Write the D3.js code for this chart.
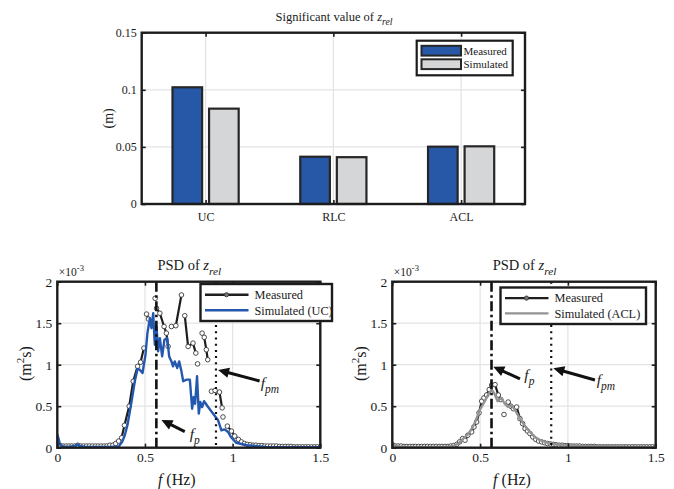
<!DOCTYPE html>
<html><head><meta charset="utf-8">
<script src="https://cdn.jsdelivr.net/npm/d3@7"></script>
<style>
body{margin:0;background:#fff}
svg{display:block}
text{font-family:"Liberation Serif","Times New Roman",serif;fill:#1a1a1a}
</style>
</head><body>
<svg id="chart" width="674" height="489"></svg>
<script>
// ---------------- DATA ----------------
const barCategories = ["UC", "RLC", "ACL"];
const barSeries = ["Measured", "Simulated"];
const barMeasured = [0.1022, 0.0414, 0.0502];
const barSimulated = [0.0835, 0.0410, 0.0505];
const barYTicks = [0, 0.05, 0.1, 0.15];

const psdXTicks = [0, 0.5, 1, 1.5];
const psdYTicks = [0, 0.5, 1, 1.5, 2];   // x 10^-3

// [frequency Hz, PSD x1e-3], null = break in line
const ucMeasured = [
  [0,0.08],[0.017,0.025],[0.033,0.02],[0.05,0.02],[0.067,0.02],[0.083,0.02],[0.1,0.02],[0.117,0.03],
  [0.133,0.02],[0.15,0.02],[0.167,0.02],[0.183,0.02],[0.2,0.02],[0.217,0.02],[0.233,0.02],[0.25,0.02],
  [0.267,0.02],[0.283,0.02],[0.3,0.03],[0.317,0.03],[0.333,0.05],[0.35,0.08],[0.367,0.12],[0.383,0.27],
  [0.41,0.5],[0.433,0.8],[0.458,0.98],[0.475,1.03],[0.494,1.2],
  null,[0.509,1.61],[0.52,1.55],
  null,[0.558,1.8],
  null,[0.566,1.68],[0.585,1.62],[0.609,1.46],[0.622,1.38],[0.632,1.22],
  null,[0.651,1.46],[0.676,1.47],[0.708,1.84],
  null,[0.727,1.59],[0.746,1.22],[0.774,1.26],[0.79,1.14],
  null,[0.8,1.01],
  null,[0.826,1.38],[0.838,1.33],[0.85,1.18],[0.858,1.06],
  null,[0.879,0.68],[0.9,0.69],[0.925,0.67],[0.94,0.48],
  null,[0.945,0.37],
  null,[0.97,0.26],[0.993,0.2],[1.012,0.14],[1.033,0.1],[1.05,0.07],[1.067,0.05],[1.083,0.04],[1.1,0.035],
  [1.117,0.03],[1.133,0.03],[1.15,0.025],[1.167,0.025],[1.183,0.02],[1.2,0.02],[1.217,0.02],[1.233,0.02],
  [1.25,0.02],[1.267,0.015],[1.283,0.015],[1.3,0.015],[1.317,0.015],[1.333,0.015],[1.35,0.01],[1.367,0.01],
  [1.383,0.01],[1.4,0.01],[1.417,0.01],[1.433,0.01],[1.45,0.01],[1.467,0.01],[1.483,0.01],[1.5,0.01]
];
const ucSimulated = [
  [0,0.16],[0.008,0.1],[0.017,0.03],[0.033,0.015],[0.06,0.01],[0.1,0.02],[0.115,0.04],[0.13,0.02],
  [0.16,0.01],[0.2,0.01],[0.25,0.01],[0.3,0.01],[0.35,0.015],[0.37,0.07],[0.385,0.15],[0.4,0.27],
  [0.423,0.55],[0.442,0.8],[0.458,0.95],[0.47,0.94],[0.486,0.9],[0.503,1.12],[0.514,1.38],[0.528,1.56],
  [0.537,1.44],[0.547,1.62],[0.556,1.24],[0.566,1.46],[0.575,1.16],[0.585,1.32],[0.598,1.1],[0.611,1.3],
  [0.627,1.32],[0.638,1.1],[0.651,1.04],[0.66,0.98],[0.67,1.04],[0.684,0.96],[0.695,1.04],[0.708,0.92],
  [0.718,0.8],[0.737,0.82],[0.756,0.82],[0.769,0.47],[0.778,0.61],[0.786,0.53],[0.797,0.86],[0.807,0.41],
  [0.816,0.55],[0.826,0.49],[0.837,0.56],[0.86,0.49],[0.889,0.41],[0.917,0.33],[0.936,0.21],[0.955,0.22],
  [0.974,0.19],[0.99,0.13],[1.02,0.06],[1.08,0.03],[1.19,0.01],[1.5,0.005]
];
const aclMeasured = [
  [0,0.04],[0.017,0.02],[0.033,0.02],[0.05,0.02],[0.067,0.015],[0.083,0.015],[0.1,0.015],[0.117,0.015],
  [0.133,0.015],[0.15,0.015],[0.167,0.015],[0.183,0.015],[0.2,0.015],[0.217,0.015],[0.233,0.015],[0.25,0.015],
  [0.267,0.015],[0.283,0.015],[0.3,0.015],[0.317,0.015],[0.333,0.02],[0.35,0.025],[0.367,0.04],[0.383,0.07],
  [0.4,0.11],[0.414,0.09],[0.43,0.15],[0.452,0.19],[0.465,0.25],[0.48,0.31],[0.494,0.42],[0.509,0.56],
  [0.522,0.6],[0.537,0.635],[0.552,0.7],[0.566,0.755],[0.585,0.76],[0.604,0.635],[0.618,0.58],
  null,[0.636,0.4],
  null,[0.66,0.55],[0.675,0.5],[0.689,0.47],[0.708,0.49],[0.727,0.35],[0.742,0.29],[0.756,0.23],[0.77,0.2],
  [0.784,0.17],[0.8,0.13],[0.817,0.1],[0.833,0.08],[0.85,0.07],[0.867,0.06],[0.883,0.05],[0.9,0.045],
  [0.917,0.04],[0.933,0.035],[0.95,0.03],[0.967,0.03],[0.983,0.025],[1.0,0.025],[1.017,0.02],[1.033,0.02],
  [1.05,0.02],[1.067,0.02],[1.083,0.015],[1.1,0.015],[1.117,0.015],[1.133,0.015],[1.15,0.015],[1.167,0.01],
  [1.183,0.01],[1.2,0.01],[1.217,0.01],[1.233,0.01],[1.25,0.01],[1.267,0.01],[1.283,0.01],[1.3,0.01],
  [1.317,0.01],[1.333,0.01],[1.35,0.01],[1.367,0.01],[1.383,0.01],[1.4,0.01],[1.417,0.01],[1.433,0.01],
  [1.45,0.01],[1.467,0.01],[1.483,0.01],[1.5,0.01]
];
const aclSimulated = [
  [0,0.06],[0.01,0.03],[0.03,0.015],[0.1,0.01],[0.2,0.01],[0.3,0.01],[0.35,0.02],[0.376,0.05],[0.4,0.1],
  [0.43,0.16],[0.45,0.22],[0.47,0.3],[0.5,0.46],[0.527,0.56],[0.546,0.64],[0.566,0.7],[0.58,0.66],[0.6,0.56],
  [0.62,0.6],[0.64,0.53],[0.66,0.49],[0.68,0.51],[0.7,0.45],[0.727,0.35],[0.756,0.26],[0.784,0.19],[0.81,0.13],
  [0.841,0.09],[0.898,0.05],[0.97,0.03],[1.1,0.02],[1.5,0.005]
];

const fpFreq = 0.565;   // peak frequency
const fpmFreq = 0.905;  // mean frequency
const ucArrows = [
  {sub:"p",  tail:[0.727,0.193], tip:[0.594,0.334], label:[0.755,0.105]},
  {sub:"pm", tail:[1.154,0.804], tip:[0.917,0.936], label:[1.16,0.716]}
];
const aclArrows = [
  {sub:"p",  tail:[0.727,0.828], tip:[0.575,0.976], label:[0.752,0.816]},
  {sub:"pm", tail:[1.154,0.816], tip:[0.917,0.957], label:[1.164,0.755]}
];

// ---------------- STYLE ----------------
const BLUE_BAR = "#2757a7", GRAY_BAR = "#d5d6d8";
const BLUE_LINE = "#2458ae", GRAY_LINE = "#939393";
const AX = "#1c1c1c", GRID = "#e3e3e3";

const svg = d3.select("#chart");
const defs = svg.append("defs");

function clip(id, p){
  defs.append("clipPath").attr("id", id).append("rect")
    .attr("x", p.l).attr("y", p.t).attr("width", p.r - p.l).attr("height", p.b - p.t);
}

function axesFrame(g, p, x, y, xTicks, yTicks, opt){
  // ticks + labels via d3 axes
  const ax = g.append("g").attr("transform", `translate(0,${p.b})`)
    .call(opt.xAxis || d3.axisBottom(x).tickValues(xTicks).tickSizeInner(-4).tickSizeOuter(0).tickPadding(opt.xPad).tickFormat(opt.xFmt));
  const axT = g.append("g").attr("transform", `translate(0,${p.t})`)
    .call((opt.xAxisTop || d3.axisTop(x).tickValues(xTicks)).tickSizeInner(-4).tickSizeOuter(0).tickFormat(""));
  const ay = g.append("g").attr("transform", `translate(${p.l},0)`)
    .call(d3.axisLeft(y).tickValues(yTicks).tickSizeInner(-4).tickSizeOuter(0).tickPadding(opt.yPad).tickFormat(opt.yFmt));
  const ayR = g.append("g").attr("transform", `translate(${p.r},0)`)
    .call(d3.axisRight(y).tickValues(yTicks).tickSizeInner(-4).tickSizeOuter(0).tickFormat(""));
  [ax, axT, ay, ayR].forEach(a => {
    a.select(".domain").remove();
    a.selectAll("line").attr("stroke", AX).attr("stroke-width", 1.6);
    a.selectAll("text").attr("font-size", opt.fs).attr("fill", "#1a1a1a")
      .style("font-family", '"Liberation Serif","Times New Roman",serif');
  });
  g.append("rect").attr("x", p.l).attr("y", p.t).attr("width", p.r - p.l).attr("height", p.b - p.t)
    .attr("fill", "none").attr("stroke", AX).attr("stroke-width", 2.4);
}

function grid(g, p, xVals, x, yVals, y){
  g.append("g").selectAll("line.gx").data(xVals).join("line")
    .attr("x1", d => x(d)).attr("x2", d => x(d)).attr("y1", p.t).attr("y2", p.b)
    .attr("stroke", GRID).attr("stroke-width", 1.2);
  g.append("g").selectAll("line.gy").data(yVals).join("line")
    .attr("y1", d => y(d)).attr("y2", d => y(d)).attr("x1", p.l).attr("x2", p.r)
    .attr("stroke", GRID).attr("stroke-width", 1.2);
}

function zrelTitle(g, cx, baseline, fs, lead){
  const t = g.append("text").attr("x", cx).attr("y", baseline).attr("text-anchor", "middle").attr("font-size", fs);
  t.append("tspan").text(lead);
  t.append("tspan").attr("font-style", "italic").text("z");
  t.append("tspan").attr("font-style", "italic").attr("font-size", fs * 0.78).attr("dy", fs * 0.35).text("rel");
}

// ================= TOP BAR CHART =================
{
  const p = {l:141.7, r:525, t:32.7, b:204};
  const g = svg.append("g");
  const x = d3.scaleBand().domain(barCategories).range([p.l, p.r]).paddingInner(0).paddingOuter(0);
  const bw = x.bandwidth();
  const xi = d3.scaleBand().domain(barSeries).range([bw * 0.241, bw * 0.759]).paddingInner(0.19);
  const y = d3.scaleLinear().domain([0, 0.15]).range([p.b, p.t]);
  const xc = c => x(c) + bw / 2;

  // grid
  g.append("g").selectAll("line").data(barCategories).join("line")
    .attr("x1", xc).attr("x2", xc).attr("y1", p.t).attr("y2", p.b).attr("stroke", GRID).attr("stroke-width", 1.2);
  g.append("g").selectAll("line").data(barYTicks).join("line")
    .attr("y1", d => y(d)).attr("y2", d => y(d)).attr("x1", p.l).attr("x2", p.r).attr("stroke", GRID).attr("stroke-width", 1.2);

  const rows = barCategories.map((c, i) => ({c, vals: [barMeasured[i], barSimulated[i]]}));
  const colors = [BLUE_BAR, GRAY_BAR];
  g.append("g").selectAll("g").data(rows).join("g")
    .attr("transform", d => `translate(${x(d.c)},0)`)
    .selectAll("rect").data(d => d.vals.map((v, j) => ({s: barSeries[j], v, j}))).join("rect")
    .attr("x", d => xi(d.s)).attr("width", xi.bandwidth())
    .attr("y", d => y(d.v)).attr("height", d => y(0) - y(d.v))
    .attr("fill", d => colors[d.j]).attr("stroke", "#262626").attr("stroke-width", 2.2);

  // axes: custom band axes positioned at centers
  const xCenter = d3.scaleOrdinal().domain(barCategories).range(barCategories.map(xc));
  const xAxisB = d3.axisBottom(d3.scalePoint().domain(barCategories).range([xc(barCategories[0]), xc(barCategories[2])]));
  const xAxisT = d3.axisTop(d3.scalePoint().domain(barCategories).range([xc(barCategories[0]), xc(barCategories[2])]));
  axesFrame(g, p, null, y, barCategories, barYTicks, {
    xAxis: xAxisB.tickSizeInner(-4).tickSizeOuter(0).tickPadding(8),
    xAxisTop: xAxisT,
    yPad: 5, yFmt: d => d === 0 ? "0" : String(d), fs: 12
  });

  zrelTitle(g, 334, 20.5, 12.5, "Significant value of ");
  g.append("text").attr("transform", `translate(113,${(p.t + p.b) / 2}) rotate(-90)`)
    .attr("text-anchor", "middle").attr("font-size", 14).text("(m)");

  // legend
  const lg = g.append("g");
  lg.append("rect").attr("x", 416.7).attr("y", 40.7).attr("width", 96).attr("height", 34.6)
    .attr("fill", "#fff").attr("stroke", AX).attr("stroke-width", 2.2);
  barSeries.forEach((s, i) => {
    lg.append("rect").attr("x", 421.5).attr("y", 45.8 + i * 13.5).attr("width", 39.5).attr("height", 9.8)
      .attr("fill", colors[i]).attr("stroke", "#262626").attr("stroke-width", 2);
    lg.append("text").attr("x", 463.5).attr("y", 54.8 + i * 13.5).attr("font-size", 11).text(s);
  });
}

// ================= PSD PANELS =================
function psdPanel(p, measured, simulated, simColor, simName, arrows, clipId, ylabelX){
  clip(clipId, p);
  const g = svg.append("g");
  const x = d3.scaleLinear().domain([0, 1.5]).range([p.l, p.r]);
  const y = d3.scaleLinear().domain([0, 2]).range([p.b, p.t]);
  grid(g, p, psdXTicks, x, psdYTicks, y);

  const data = g.append("g").attr("clip-path", `url(#${clipId})`);
  const line = d3.line().defined(d => d != null).x(d => x(d[0])).y(d => y(d[1]));
  data.append("path").datum(measured).attr("d", line).attr("fill", "none")
    .attr("stroke", "#1e1e1e").attr("stroke-width", 2.2).attr("stroke-linejoin", "round");
  data.append("g").selectAll("circle").data(measured.filter(d => d != null)).join("circle")
    .attr("cx", d => x(d[0])).attr("cy", d => y(d[1])).attr("r", 2.3)
    .attr("fill", "#fff").attr("stroke", "#3a3a3a").attr("stroke-width", 0.9);
  data.append("path").datum(simulated).attr("d", line).attr("fill", "none")
    .attr("stroke", simColor).attr("stroke-width", 2.4).attr("stroke-linejoin", "round");

  // reference lines
  g.append("line").attr("x1", x(fpFreq)).attr("x2", x(fpFreq)).attr("y1", p.t).attr("y2", p.b)
    .attr("stroke", "#111").attr("stroke-width", 2.6).attr("stroke-dasharray", "10,3.5,2.5,3.5");
  g.append("line").attr("x1", x(fpmFreq)).attr("x2", x(fpmFreq)).attr("y1", p.t).attr("y2", p.b)
    .attr("stroke", "#111").attr("stroke-width", 2.2).attr("stroke-dasharray", "2,4.2");

  axesFrame(g, p, x, y, psdXTicks, psdYTicks, {
    xPad: 5, yPad: 5, xFmt: d => String(d), yFmt: d => String(d), fs: 13.5
  });

  // exponent
  const ex = g.append("text").attr("x", p.l + 1.5).attr("y", 276).attr("font-size", 11.5);
  ex.append("tspan").text("×10");
  ex.append("tspan").attr("font-size", 8.5).attr("dy", -5).text("-3");

  zrelTitle(g, (p.l + p.r) / 2 + 0.5, 270, 14.5, "PSD of ");

  // x label
  const xl = g.append("text").attr("x", (p.l + p.r) / 2 - 12).attr("y", 485).attr("text-anchor", "middle").attr("font-size", 16);
  xl.append("tspan").attr("font-style", "italic").text("f");
  xl.append("tspan").text(" (Hz)");
  // y label
  const yl = g.append("text").attr("transform", `translate(${ylabelX},${(p.t + p.b) / 2 - 1}) rotate(-90)`)
    .attr("text-anchor", "middle").attr("font-size", 16);
  yl.append("tspan").text("(m");
  yl.append("tspan").attr("font-size", 11).attr("dy", -7).text("2");
  yl.append("tspan").attr("dy", 7).text("s)");

  // arrows
  arrows.forEach(a => {
    const tx = x(a.tail[0]), ty = y(a.tail[1]), hx = x(a.tip[0]), hy = y(a.tip[1]);
    const ang = Math.atan2(hy - ty, hx - tx);
    const L = 11, Wd = 5.2;
    const bx = hx - L * Math.cos(ang), by = hy - L * Math.sin(ang);
    g.append("line").attr("x1", tx).attr("y1", ty).attr("x2", bx + 1 * Math.cos(ang)).attr("y2", by + 1 * Math.sin(ang))
      .attr("stroke", "#111").attr("stroke-width", 3);
    const pts = [[hx, hy],
      [bx + Wd * Math.sin(ang), by - Wd * Math.cos(ang)],
      [bx - Wd * Math.sin(ang), by + Wd * Math.cos(ang)]];
    g.append("path").attr("d", d3.line()(pts) + "Z").attr("fill", "#111");
    const t = g.append("text").attr("x", x(a.label[0])).attr("y", y(a.label[1])).attr("font-size", 15.5).attr("font-style", "italic");
    t.append("tspan").text("f");
    t.append("tspan").attr("font-size", 11.5).attr("dy", 5).text(a.sub);
  });

  return {g, x, y};
}

function psdLegend(g, box, simColor, simName){
  const lg = g.append("g");
  lg.append("rect").attr("x", box.x).attr("y", box.y).attr("width", box.w).attr("height", box.h)
    .attr("fill", "#fff").attr("stroke", AX).attr("stroke-width", 2.4);
  const y1 = box.y + box.h * 0.29, y2 = box.y + box.h * 0.71;
  lg.append("line").attr("x1", box.x + 4.5).attr("x2", box.x + 48).attr("y1", y1).attr("y2", y1)
    .attr("stroke", "#1e1e1e").attr("stroke-width", 2.4);
  lg.append("circle").attr("cx", box.x + 26).attr("cy", y1).attr("r", 2.1)
    .attr("fill", "#777").attr("stroke", "#333").attr("stroke-width", 0.9);
  lg.append("line").attr("x1", box.x + 4.5).attr("x2", box.x + 48).attr("y1", y2).attr("y2", y2)
    .attr("stroke", simColor).attr("stroke-width", 2.4);
  lg.append("text").attr("x", box.x + 54).attr("y", y1 + 4.3).attr("font-size", 12.3).text("Measured");
  lg.append("text").attr("x", box.x + 54).attr("y", y2 + 4.3).attr("font-size", 12.3).text(simName);
}

const pl = {l:57.3, r:320.3, t:281.7, b:447.7};
const pr = {l:392.3, r:655.7, t:281.7, b:447.7};
const A = psdPanel(pl, ucMeasured, ucSimulated, BLUE_LINE, "Simulated (UC)", ucArrows, "clipL", 31);
const B = psdPanel(pr, aclMeasured, aclSimulated, GRAY_LINE, "Simulated (ACL)", aclArrows, "clipR", 366);
psdLegend(A.g, {x:200.5, y:284, w:131.5, h:37}, BLUE_LINE, "Simulated (UC)");
psdLegend(B.g, {x:500.5, y:287.5, w:145.5, h:36.5}, GRAY_LINE, "Simulated (ACL)");
</script>
</body></html>
